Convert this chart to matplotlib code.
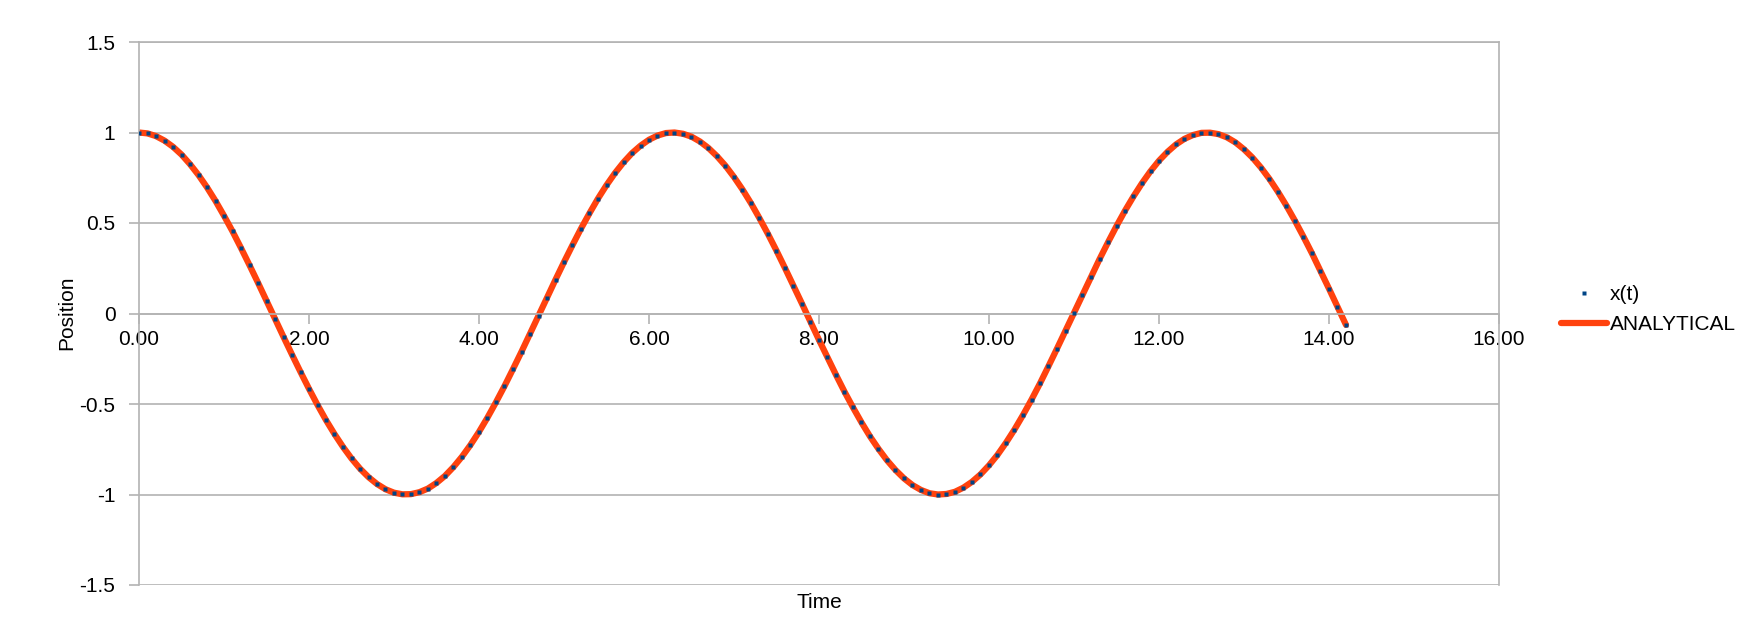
import matplotlib
matplotlib.use("Agg")
import matplotlib.pyplot as plt
from matplotlib.ticker import FuncFormatter

plt.rcParams['font.family'] = ['Liberation Sans', 'DejaVu Sans']

time = [0.0, 0.1, 0.2, 0.3, 0.4, 0.5, 0.6, 0.7, 0.8, 0.9,
        1.0, 1.1, 1.2, 1.3, 1.4, 1.5, 1.6, 1.7, 1.8, 1.9,
        2.0, 2.1, 2.2, 2.3, 2.4, 2.5, 2.6, 2.7, 2.8, 2.9,
        3.0, 3.1, 3.2, 3.3, 3.4, 3.5, 3.6, 3.7, 3.8, 3.9,
        4.0, 4.1, 4.2, 4.3, 4.4, 4.5, 4.6, 4.7, 4.8, 4.9,
        5.0, 5.1, 5.2, 5.3, 5.4, 5.5, 5.6, 5.7, 5.8, 5.9,
        6.0, 6.1, 6.2, 6.3, 6.4, 6.5, 6.6, 6.7, 6.8, 6.9,
        7.0, 7.1, 7.2, 7.3, 7.4, 7.5, 7.6, 7.7, 7.8, 7.9,
        8.0, 8.1, 8.2, 8.3, 8.4, 8.5, 8.6, 8.7, 8.8, 8.9,
        9.0, 9.1, 9.2, 9.3, 9.4, 9.5, 9.6, 9.7, 9.8, 9.9,
        10.0, 10.1, 10.2, 10.3, 10.4, 10.5, 10.6, 10.7, 10.8, 10.9,
        11.0, 11.1, 11.2, 11.3, 11.4, 11.5, 11.6, 11.7, 11.8, 11.9,
        12.0, 12.1, 12.2, 12.3, 12.4, 12.5, 12.6, 12.7, 12.8, 12.9,
        13.0, 13.1, 13.2, 13.3, 13.4, 13.5, 13.6, 13.7, 13.8, 13.9,
        14.0, 14.1, 14.2]

x_numeric = [1.000, 0.995, 0.980, 0.955, 0.921, 0.878, 0.825, 0.765, 0.697, 0.622,
             0.540, 0.454, 0.362, 0.267, 0.170, 0.071, -0.029, -0.129, -0.227, -0.323,
             -0.416, -0.505, -0.589, -0.666, -0.737, -0.801, -0.857, -0.904, -0.942, -0.971,
             -0.990, -0.999, -0.998, -0.987, -0.967, -0.936, -0.897, -0.848, -0.791, -0.726,
             -0.654, -0.575, -0.490, -0.401, -0.307, -0.211, -0.112, -0.012, 0.087, 0.187,
             0.284, 0.378, 0.469, 0.554, 0.635, 0.709, 0.776, 0.835, 0.886, 0.927,
             0.960, 0.983, 0.997, 1.000, 0.993, 0.977, 0.950, 0.914, 0.869, 0.816,
             0.754, 0.685, 0.609, 0.526, 0.439, 0.347, 0.251, 0.153, 0.054, -0.046,
             -0.146, -0.243, -0.339, -0.432, -0.519, -0.602, -0.679, -0.748, -0.811, -0.865,
             -0.911, -0.948, -0.975, -0.993, -1.000, -0.997, -0.985, -0.962, -0.930, -0.889,
             -0.839, -0.781, -0.714, -0.641, -0.561, -0.476, -0.386, -0.291, -0.194, -0.095,
             0.004, 0.104, 0.203, 0.300, 0.393, 0.483, 0.568, 0.647, 0.720, 0.786,
             0.844, 0.893, 0.934, 0.965, 0.986, 0.998, 0.999, 0.991, 0.973, 0.945,
             0.907, 0.861, 0.806, 0.743, 0.672, 0.595, 0.512, 0.424, 0.332, 0.235,
             0.137, 0.037, -0.063]

analytical = [1.000, 0.995, 0.980, 0.955, 0.921, 0.878, 0.825, 0.765, 0.697, 0.622,
              0.540, 0.454, 0.362, 0.267, 0.170, 0.071, -0.029, -0.129, -0.227, -0.323,
              -0.416, -0.505, -0.589, -0.666, -0.737, -0.801, -0.857, -0.904, -0.942, -0.971,
              -0.990, -0.999, -0.998, -0.987, -0.967, -0.936, -0.897, -0.848, -0.791, -0.726,
              -0.654, -0.575, -0.490, -0.401, -0.307, -0.211, -0.112, -0.012, 0.087, 0.187,
              0.284, 0.378, 0.469, 0.554, 0.635, 0.709, 0.776, 0.835, 0.886, 0.927,
              0.960, 0.983, 0.997, 1.000, 0.993, 0.977, 0.950, 0.914, 0.869, 0.816,
              0.754, 0.685, 0.609, 0.526, 0.439, 0.347, 0.251, 0.153, 0.054, -0.046,
              -0.146, -0.243, -0.339, -0.432, -0.519, -0.602, -0.679, -0.748, -0.811, -0.865,
              -0.911, -0.948, -0.975, -0.993, -1.000, -0.997, -0.985, -0.962, -0.930, -0.889,
              -0.839, -0.781, -0.714, -0.641, -0.561, -0.476, -0.386, -0.291, -0.194, -0.095,
              0.004, 0.104, 0.203, 0.300, 0.393, 0.483, 0.568, 0.647, 0.720, 0.786,
              0.844, 0.893, 0.934, 0.965, 0.986, 0.998, 0.999, 0.991, 0.973, 0.945,
              0.907, 0.861, 0.806, 0.743, 0.672, 0.595, 0.512, 0.424, 0.332, 0.235,
              0.137, 0.037, -0.063]

x_ticks = [0, 2, 4, 6, 8, 10, 12, 14, 16]
y_ticks = [-1.5, -1, -0.5, 0, 0.5, 1, 1.5]

GRID = '#b3b3b3'
FS = 15

fig = plt.figure(figsize=(17.56, 6.25), dpi=100)
ax = fig.add_axes([139/1756, 40/625, 1360/1756, 543/625])

ax.plot(time, analytical, color='#ff420e', lw=4.5, solid_capstyle='round',
        label='ANALYTICAL', zorder=2)
ax.plot(time, x_numeric, ls='none', marker='s', ms=3.2, mfc='#004586',
        mec='none', label='x(t)', zorder=3)

ax.set_xlim(0, 16)
ax.set_ylim(-1.5, 1.5)
ax.set_xticks(x_ticks)
ax.set_yticks(y_ticks)
ax.xaxis.set_major_formatter(FuncFormatter(lambda v, p: f'{v:.2f}'))
ax.yaxis.set_major_formatter(FuncFormatter(lambda v, p: f'{v:g}'))

ax.grid(axis='y', color=GRID, lw=1.2, zorder=0)
ax.set_axisbelow(True)
ax.spines['bottom'].set_position(('data', 0))
for s in ax.spines.values():
    s.set_color(GRID)
    s.set_linewidth(1.2)
ax.tick_params(axis='both', colors=GRID, labelcolor='black', labelsize=FS,
               length=7, width=1.2)
ax.tick_params(axis='y', pad=10)
ax.tick_params(axis='x', pad=5)

fig.text(819/1756, 1 - 602/625, 'Time', fontsize=FS, ha='center', va='center')
fig.text(67/1756, 1 - 313/625, 'Position', fontsize=FS, rotation=90,
         ha='center', va='center')

handles, labels = ax.get_legend_handles_labels()
order = [1, 0]
fig.legend([handles[i] for i in order], [labels[i] for i in order],
           loc='upper left', bbox_to_anchor=(1561/1756, 1 - 285/625),
           frameon=False, fontsize=FS, handlelength=2.2, handletextpad=0.15,
           borderpad=0, borderaxespad=0, labelspacing=0.55, markerscale=1.0)

fig.savefig('out.png', dpi=100)
